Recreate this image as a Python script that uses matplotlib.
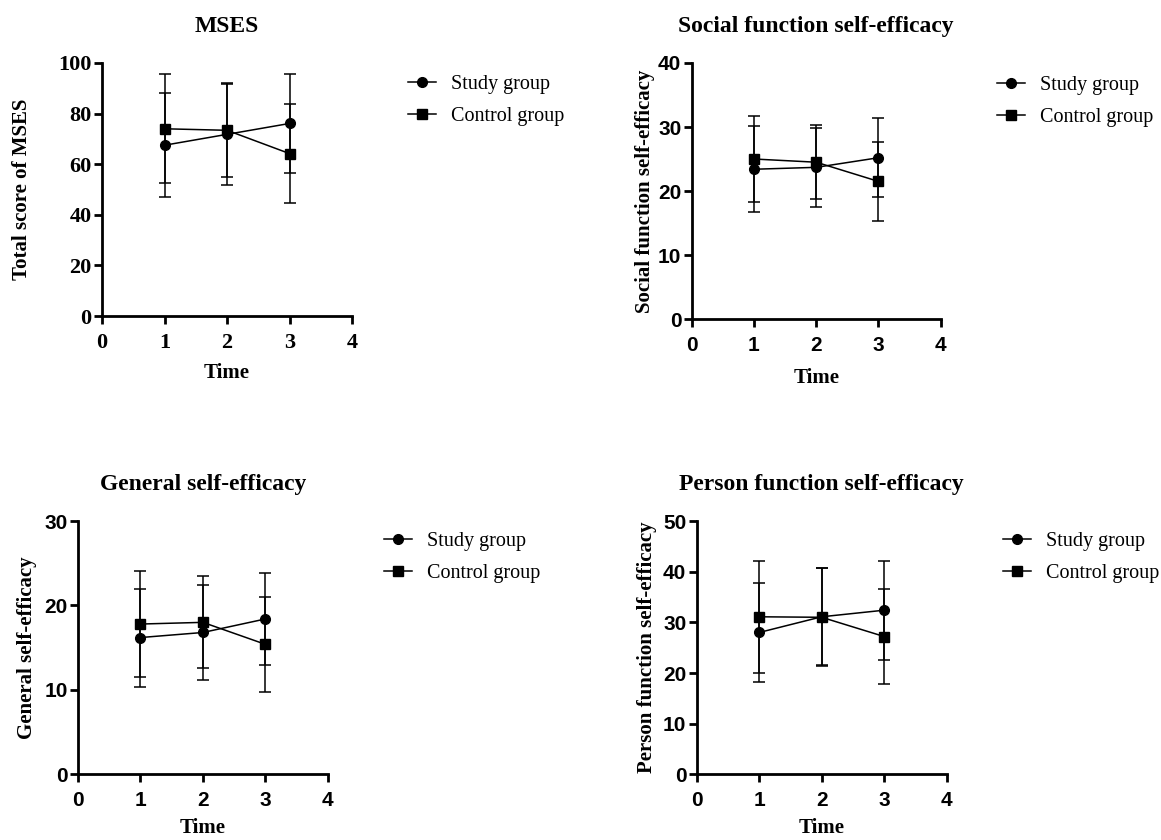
import numpy as np
import matplotlib
matplotlib.use('Agg')
import matplotlib.pyplot as plt

time = [1, 2, 3]

mses_study = [67.5, 71.8, 76.1]
mses_study_sd = [20.6, 20.2, 19.4]
mses_control = [74.0, 73.4, 64.2]
mses_control_sd = [21.6, 18.3, 19.4]

social_study = [23.4, 23.7, 25.2]
social_study_sd = [6.7, 6.2, 6.2]
social_control = [25.0, 24.5, 21.5]
social_control_sd = [6.7, 5.8, 6.2]

general_study = [16.2, 16.8, 18.4]
general_study_sd = [5.8, 5.6, 5.4]
general_control = [17.8, 18.0, 15.4]
general_control_sd = [6.25, 5.45, 5.6]

person_study = [28.0, 31.1, 32.4]
person_study_sd = [9.8, 9.6, 9.8]
person_control = [31.1, 31.0, 27.2]
person_control_sd = [11.0, 9.7, 9.4]

serif = 'Liberation Serif'
sans = 'Liberation Sans'

fig = plt.figure(figsize=(11.61, 8.4), dpi=100)

panels = [
    # title, ylabel, study, sd, control, sd, ymax, ystep, tick font, tick size, axes rect, legend anchor
    ('MSES', 'Total score of MSES', mses_study, mses_study_sd,
     mses_control, mses_control_sd, 100, 20, serif, 16,
     [0.0879, 0.6238, 0.2153, 0.3012], (0.3514, 0.9105)),
    ('Social function self-efficacy', 'Social function self-efficacy',
     social_study, social_study_sd, social_control, social_control_sd,
     40, 10, sans, 15, [0.5958, 0.6202, 0.2145, 0.3048], (0.8587, 0.9095)),
    ('General self-efficacy', 'General self-efficacy',
     general_study, general_study_sd, general_control, general_control_sd,
     30, 10, sans, 15, [0.0672, 0.0782, 0.2151, 0.3015], (0.3307, 0.3666)),
    ('Person function self-efficacy', 'Person function self-efficacy',
     person_study, person_study_sd, person_control, person_control_sd,
     50, 10, sans, 15, [0.6001, 0.0782, 0.2153, 0.3015], (0.8639, 0.3666)),
]

ylabel_x = [-0.28, -0.147, -0.164, -0.159]
xlabel_y = [-0.186, -0.19, -0.172, -0.172]

for i, (title, ylabel, s, s_sd, c, c_sd, ymax, ystep, tfont, tsize, rect, anchor) in enumerate(panels):
    ax = fig.add_axes(rect)
    ax.errorbar(time, s, yerr=s_sd, color='black', marker='o', markersize=7,
                linewidth=1.1, elinewidth=1.1, capsize=4.5, capthick=1.1,
                label='Study group')
    ax.errorbar(time, c, yerr=c_sd, color='black', marker='s', markersize=6.5,
                linewidth=1.1, elinewidth=1.1, capsize=4.5, capthick=1.1,
                label='Control group')
    ax.set_xlim(0, 4)
    ax.set_ylim(0, ymax)
    ax.set_xticks(range(0, 5))
    ax.set_yticks(np.arange(0, ymax + 1, ystep))
    for side in ['top', 'right']:
        ax.spines[side].set_visible(False)
    for side in ['left', 'bottom']:
        ax.spines[side].set_linewidth(2)
    ax.tick_params(width=2, length=6, direction='out')
    ax.tick_params(axis='x', pad=6)
    ax.tick_params(axis='y', pad=1.5)
    for lab in ax.get_xticklabels() + ax.get_yticklabels():
        lab.set_fontfamily(tfont)
        lab.set_fontweight('bold')
        lab.set_fontsize(tsize)
    ax.set_title(title, fontfamily=serif, fontweight='bold', fontsize=17, pad=22)
    ax.set_xlabel('Time', fontfamily=serif, fontweight='bold', fontsize=15)
    ax.set_ylabel(ylabel, fontfamily=serif, fontweight='bold', fontsize=15)
    ax.yaxis.set_label_coords(ylabel_x[i], 0.5)
    ax.xaxis.set_label_coords(0.5, xlabel_y[i])
    handles, labels = ax.get_legend_handles_labels()
    handles = [h[0] for h in handles]
    ax.legend(handles, labels, loc='upper left', bbox_to_anchor=anchor,
              bbox_transform=fig.transFigure, frameon=False, borderpad=0,
              borderaxespad=0, handlelength=1.4, handletextpad=0.75,
              labelspacing=0.65, prop={'family': serif, 'size': 14.5})

fig.savefig('out.png', dpi=100)
